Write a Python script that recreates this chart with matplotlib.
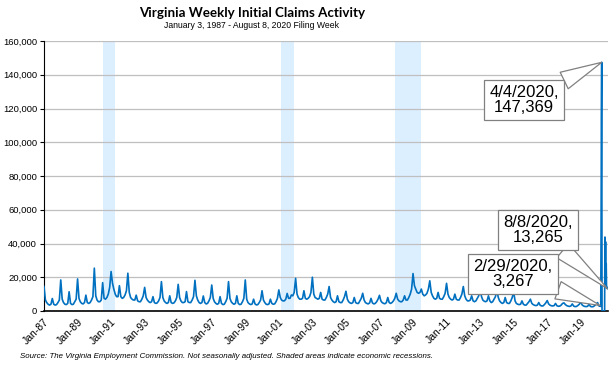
import pandas as pd
import matplotlib
matplotlib.use("Agg")
import matplotlib.pyplot as plt
from matplotlib.ticker import FuncFormatter, MultipleLocator

# Monthly readings (first filing week of each month), 1987-2019
monthly_claims = [
    14500, 6500, 5000, 4000, 3500, 4000, 7400, 4000, 3500, 3800, 5000, 6500,     # 1987
    18400, 7000, 5000, 4000, 3800, 4500, 11400, 4500, 3800, 4000, 5500, 7000,    # 1988
    19000, 7500, 5500, 4500, 4200, 5000, 9400, 5000, 4500, 5000, 6500, 8500,     # 1989
    25400, 9000, 6500, 5500, 5500, 6500, 16800, 7500, 7000, 8000, 10000, 14000,  # 1990
    23400, 16400, 13000, 10000, 8500, 8500, 15000, 8500, 7500, 8000, 9500, 12000,  # 1991
    22400, 11000, 8000, 7000, 6500, 6500, 9400, 6000, 5500, 5500, 7000, 9000,    # 1992
    14000, 8000, 6500, 5500, 5000, 5500, 8500, 5000, 4500, 4800, 6000, 8000,     # 1993
    17400, 8000, 6000, 5000, 4500, 5000, 9000, 5000, 4500, 4800, 6000, 8000,     # 1994
    15800, 8000, 6000, 5000, 5000, 5500, 11500, 5500, 5000, 5000, 6500, 8500,    # 1995
    18200, 9000, 6500, 5000, 4500, 5000, 8900, 5000, 4200, 4500, 6000, 8000,     # 1996
    15400, 7500, 5500, 4500, 4000, 4500, 8500, 4500, 3800, 4000, 5500, 7500,     # 1997
    17400, 7500, 5500, 4500, 4000, 4500, 9000, 4500, 3800, 4000, 5500, 7500,     # 1998
    18400, 7000, 5000, 4200, 3800, 4200, 7000, 4200, 3600, 3800, 5000, 6500,     # 1999
    12000, 6500, 5000, 4000, 3800, 4200, 7000, 4500, 4000, 4200, 5500, 7500,     # 2000
    12500, 8000, 6500, 6000, 6000, 7000, 10400, 7500, 7500, 9500, 9000, 11000,   # 2001
    19400, 10000, 8000, 7000, 7000, 7500, 12000, 7500, 7000, 7500, 8500, 11000,  # 2002
    20000, 10000, 8000, 7500, 7000, 7500, 11000, 7000, 6500, 6500, 8000, 10000,  # 2003
    14500, 8000, 6500, 5500, 5000, 5500, 9000, 5500, 5000, 5000, 6500, 8500,     # 2004
    11700, 7000, 5500, 4800, 4500, 5000, 8000, 5000, 4500, 4500, 6000, 7500,     # 2005
    10500, 6500, 5000, 4500, 4200, 4800, 7500, 4800, 4200, 4500, 5500, 7000,     # 2006
    9300, 6000, 5000, 4500, 4300, 5000, 8000, 5000, 4500, 5000, 6000, 7500,      # 2007
    10500, 7000, 6000, 5500, 5500, 6500, 9000, 6500, 6500, 8000, 10000, 13000,   # 2008
    22200, 15000, 13000, 11000, 10500, 11000, 13000, 10000, 9000, 9500, 10500, 13000,  # 2009
    17900, 11000, 9000, 7500, 7000, 7500, 11000, 7500, 7000, 7000, 8500, 10500,  # 2010
    16400, 10000, 8000, 7000, 6500, 7000, 10000, 7000, 6500, 6500, 8000, 10000,  # 2011
    14500, 9000, 7000, 6000, 6000, 6500, 9000, 6000, 5500, 6000, 7500, 9000,     # 2012
    12500, 8500, 6500, 5800, 5500, 6000, 9000, 6000, 5000, 5500, 7000, 8500,     # 2013
    12500, 8000, 6000, 5000, 4500, 5000, 8000, 5000, 4500, 4500, 6000, 8000,     # 2014
    11500, 6000, 4500, 4000, 3800, 4000, 6000, 4000, 3500, 3500, 4500, 5500,     # 2015
    7000, 4500, 3800, 3400, 3200, 3500, 5000, 3400, 3000, 3000, 3800, 4800,      # 2016
    6200, 4200, 3500, 3100, 3000, 3200, 4500, 3100, 2800, 2900, 3500, 4500,      # 2017
    4800, 3800, 3200, 2900, 2700, 3000, 4200, 2900, 2600, 2700, 3300, 4000,      # 2018
    5200, 3600, 3000, 2700, 2600, 2800, 4000, 2700, 2500, 2600, 3200, 4000,      # 2019
]

# Weekly readings for 2020 (Jan 4 - Aug 8)
claims_2020 = [
    5000, 4600, 3500, 3200, 3100, 3000, 2900, 2800, 3267,
    2900, 2706, 46277, 114104, 147369,
    0, 0, 0, 0, 0, 0, 0, 0, 0,
    43800, 14000, 41000, 15000, 28000, 14500, 13500, 14000, 13265,
]

recession_start = ["1990-07-01", "2001-03-01", "2007-12-01"]
recession_end = ["1991-03-31", "2001-11-30", "2009-06-30"]

callout_dates = ["2020-04-04", "2020-08-08", "2020-02-29"]
callout_values = [147369, 13265, 3267]
callout_text = ["4/4/2020,\n147,369", "8/8/2020,\n13,265", "2/29/2020,\n3,267"]

tick_years = list(range(1987, 2020, 2))

monthly_dates = pd.date_range("1987-01-01", periods=len(monthly_claims), freq="MS") + pd.Timedelta(days=2)
weekly_dates = pd.date_range("2020-01-04", periods=len(claims_2020), freq="7D")
dates = list(monthly_dates) + list(weekly_dates)
claims = monthly_claims + claims_2020

plt.rcParams["font.family"] = ["Liberation Sans", "DejaVu Sans"]

fig = plt.figure(figsize=(6.09, 3.65), dpi=100)
ax = fig.add_axes([44 / 609, 1 - 311 / 365, 563.5 / 609, 270 / 365])

for s, e in zip(recession_start, recession_end):
    ax.axvspan(pd.Timestamp(s), pd.Timestamp(e), color="#dcefff", lw=0, zorder=0)

ax.plot(dates, claims, color="#0070c0", lw=1.2, zorder=3)

ax.set_ylim(0, 160000)
ax.set_xlim(pd.Timestamp("1987-01-03"), pd.Timestamp("2020-08-08"))
ax.yaxis.set_major_locator(MultipleLocator(20000))
ax.yaxis.set_major_formatter(FuncFormatter(lambda v, p: f"{int(v):,}"))
ax.grid(axis="y", color="#bfbfbf", lw=0.9, zorder=1)
ax.set_axisbelow(True)

ticks = [pd.Timestamp(f"{y}-01-03") for y in tick_years]
ax.set_xticks(ticks)
ax.set_xticklabels([f"Jan-{str(y)[2:]}" for y in tick_years], rotation=45,
                   ha="right", rotation_mode="anchor", fontsize=7.5)
ax.tick_params(axis="x", length=0, pad=4)
ax.tick_params(axis="y", length=3, width=0.8, labelsize=6.8, pad=2)

for side in ["top", "right"]:
    ax.spines[side].set_visible(False)
ax.spines["left"].set_color("black")
ax.spines["bottom"].set_color("black")
ax.spines["bottom"].set_linewidth(1.2)

# callouts (positions in figure pixels)
box_pos = [(524, 365 - 100), (538, 365 - 230), (513, 365 - 274)]
for d, v, t, (bx, by) in zip(callout_dates, callout_values, callout_text, box_pos):
    ax.annotate(t, xy=(pd.Timestamp(d), v), xytext=(bx, by), textcoords="figure pixels",
                ha="center", va="center", fontsize=12, linespacing=1.05, zorder=5,
                bbox=dict(boxstyle="square,pad=0.3", fc="white", ec="#808080", lw=0.9),
                arrowprops=dict(arrowstyle="wedge,tail_width=1.1,shrink_factor=0.5",
                                fc="white", ec="#808080", lw=0.9, shrinkA=0, shrinkB=0))

fig.text(252 / 609, 1 - 13 / 365, "Virginia Weekly Initial Claims Activity",
         ha="center", va="center", fontsize=9.6, fontweight="bold", family=["Lato", "DejaVu Sans"])
fig.text(252 / 609, 1 - 26 / 365, "January 3, 1987 - August 8, 2020 Filing Week",
         ha="center", va="center", fontsize=6.2)
fig.text(20 / 609, 1 - 356 / 365,
         "Source: The Virginia Employment Commission. Not seasonally adjusted. Shaded areas indicate economic recessions.",
         ha="left", va="center", fontsize=5.7, style="italic")

fig.savefig("out.png", dpi=100)
